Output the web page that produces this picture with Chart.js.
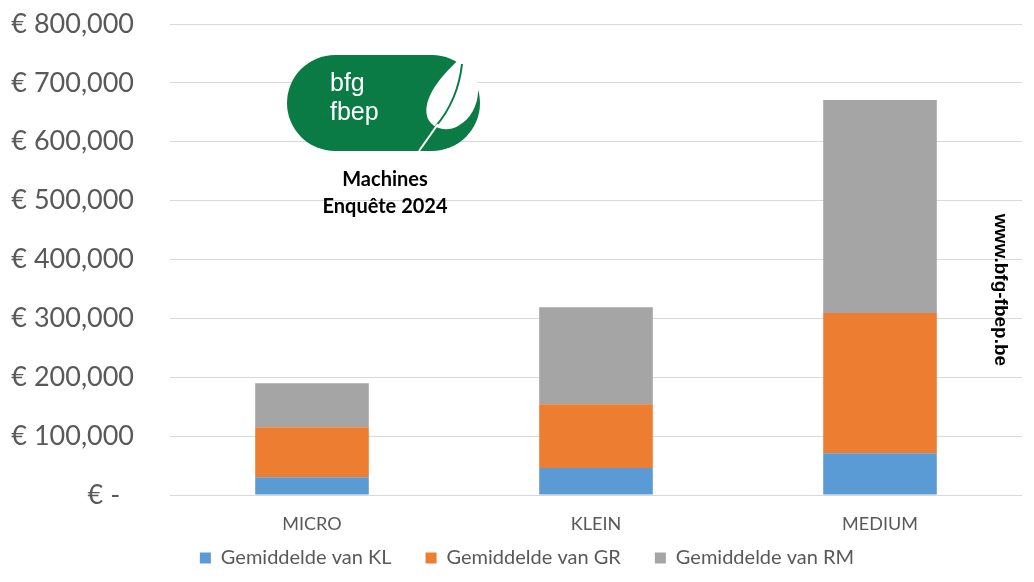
<!DOCTYPE html>
<html>
<head>
<meta charset="utf-8">
<script src="https://cdn.jsdelivr.net/npm/chart.js@4/dist/chart.umd.min.js"></script>
<style>
  html, body { margin: 0; padding: 0; background: #fff; }
  #wrap { width: 1034px; height: 582px; }
</style>
</head>
<body>
<div id="wrap"><canvas id="chart"></canvas></div>
<script>
// data
const categories = ['MICRO', 'KLEIN', 'MEDIUM'];
const klValues = [30000, 46000, 71000];
const grValues = [85000, 108000, 238000];
const rmValues = [75000, 165000, 362000];
const seriesNames = ['Gemiddelde van KL', 'Gemiddelde van GR', 'Gemiddelde van RM'];

const FONT = 'Lato, "Open Sans", sans-serif';

// logo, title and website text drawn on top of the grid
const overlay = {
    id: 'overlay',
    afterLayout(chart) {
        // the legend overlaps the lower part of the axis box
        const lg = chart.legend;
        lg.top = 514;
        lg.bottom = chart.height;
        lg.height = lg.bottom - lg.top;
    },
    afterDraw(chart) {
        const ctx = chart.ctx;
        ctx.save();

        // green pill
        const x0 = 287, y0 = 55, x1 = 480, y1 = 151, r = 48;
        ctx.fillStyle = '#0b7b45';
        ctx.beginPath();
        ctx.moveTo(x0 + r, y0);
        ctx.lineTo(x1 - r, y0);
        ctx.arc(x1 - r, y0 + r, r, -Math.PI / 2, Math.PI / 2);
        ctx.lineTo(x0 + r, y1);
        ctx.arc(x0 + r, y0 + r, r, Math.PI / 2, Math.PI * 1.5);
        ctx.closePath();
        ctx.fill();

        // leaf
        ctx.fillStyle = '#fff';
        ctx.beginPath();
        ctx.moveTo(463, 56);
        ctx.bezierCurveTo(484, 72, 484, 112, 458, 126);
        ctx.bezierCurveTo(446, 133, 430, 128, 427, 116);
        ctx.bezierCurveTo(423, 98, 440, 76, 463, 56);
        ctx.closePath();
        ctx.fill();
        ctx.strokeStyle = '#0b7b45';
        ctx.lineWidth = 2;
        ctx.beginPath();
        ctx.moveTo(462, 64);
        ctx.quadraticCurveTo(458, 100, 436, 126);
        ctx.stroke();
        ctx.strokeStyle = '#fff';
        ctx.lineWidth = 2;
        ctx.beginPath();
        ctx.moveTo(438, 124);
        ctx.lineTo(419, 151);
        ctx.stroke();

        ctx.fillStyle = '#fff';
        ctx.font = '25px "Liberation Sans", Arial, sans-serif';
        ctx.textAlign = 'left';
        ctx.textBaseline = 'alphabetic';
        ctx.fillText('bfg', 330, 91);
        ctx.fillText('fbep', 330, 120);

        // title
        ctx.fillStyle = '#000';
        ctx.font = 'bold 20px ' + FONT;
        ctx.textAlign = 'center';
        ctx.textBaseline = 'middle';
        ctx.fillText('Machines', 385, 180);
        ctx.fillText('Enquête 2024', 385, 207);

        // website, rotated
        ctx.translate(1000, 290);
        ctx.rotate(Math.PI / 2);
        ctx.font = 'bold 19px "Liberation Sans", Arial, sans-serif';
        ctx.fillText('www.bfg-fbep.be', 0, 0);
        ctx.restore();
    }
};

new Chart(document.getElementById('chart'), {
    type: 'bar',
    data: {
        labels: categories,
        datasets: [
            { label: seriesNames[0], data: klValues, backgroundColor: '#5b9bd5' },
            { label: seriesNames[1], data: grValues, backgroundColor: '#ed7d31' },
            { label: seriesNames[2], data: rmValues, backgroundColor: '#a5a5a5' }
        ]
    },
    options: {
        responsive: true,
        maintainAspectRatio: false,
        animation: false,
        datasets: { bar: { categoryPercentage: 1, barPercentage: 0.4 } },
        layout: { padding: { top: 24, right: -20, bottom: 0, left: 0 } },
        plugins: {
            tooltip: { enabled: false },
            legend: {
                position: 'bottom',
                maxHeight: 39,
                labels: {
                    boxWidth: 11,
                    boxHeight: 11,
                    padding: 34,
                    color: '#595959',
                    font: { family: FONT, size: 20 }
                }
            }
        },
        scales: {
            x: {
                stacked: true,
                grid: { display: false },
                border: { display: false },
                ticks: { color: '#595959', padding: 10, font: { family: FONT, size: 18 } },
                afterFit(scale) {
                    scale.height = 48;
                    scale.paddingRight = 12;
                }
            },
            y: {
                stacked: true,
                min: 0,
                max: 800000,
                afterFit(scale) {
                    scale.width = 170;
                    scale.paddingTop = 0;
                    scale.paddingBottom = 0;
                },
                grid: { color: '#d9d9d9', drawTicks: false },
                border: { display: false },
                ticks: {
                    stepSize: 100000,
                    padding: 36,
                    color: '#595959',
                    font: { family: FONT, size: 27 },
                    callback: v => v === 0 ? '€ -  ' : '€ ' + v.toLocaleString('en-US')
                }
            }
        }
    },
    plugins: [overlay]
});
</script>
</body>
</html>
